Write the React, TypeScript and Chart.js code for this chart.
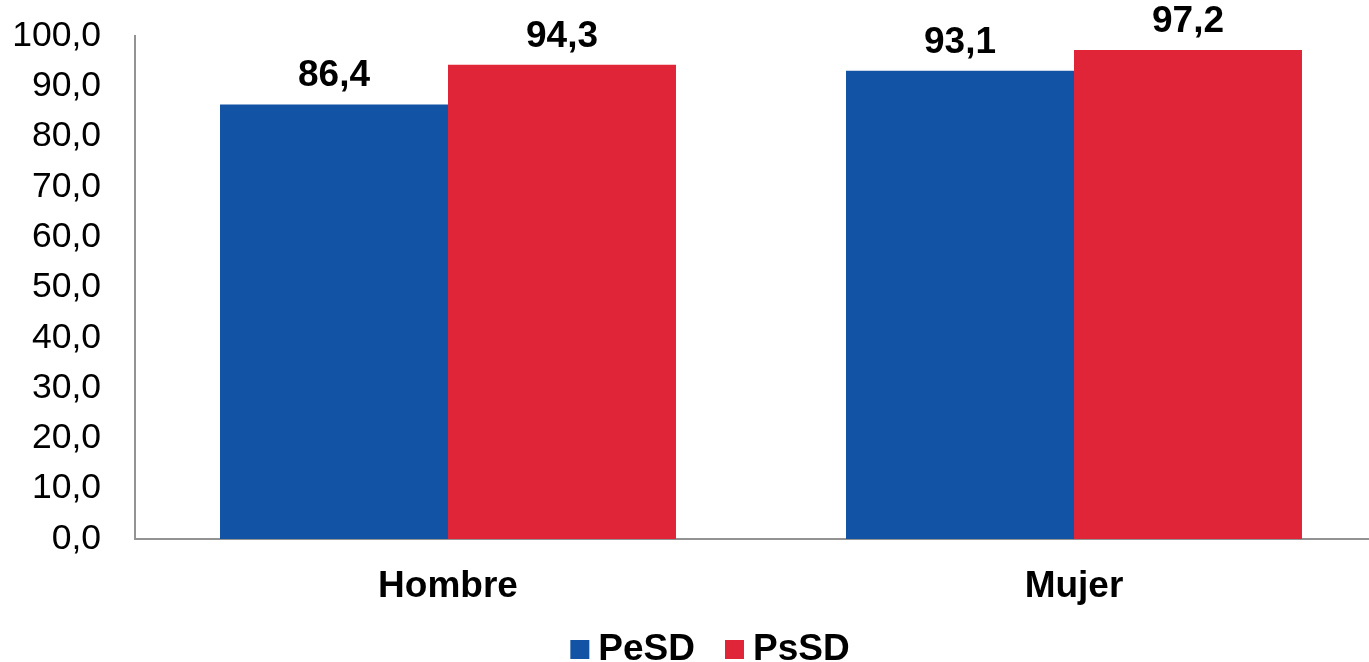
import React, { useEffect, useRef } from "react";
import { Chart, registerables } from "chart.js";

Chart.register(...registerables);

const categories = ["Hombre", "Mujer"];
const seriesNames = ["PeSD", "PsSD"];
const pesdValues = [86.4, 93.1];
const pssdValues = [94.3, 97.2];
const seriesColors = ["#1353a5", "#e12539"];
const yTicks = [0, 10, 20, 30, 40, 50, 60, 70, 80, 90, 100];

const FONT = "'Liberation Sans', Arial, sans-serif";

const fmt = (v: number) => v.toFixed(1).replace(".", ",");

const valueLabels = {
  id: "valueLabels",
  afterDatasetsDraw(chart: any) {
    const ctx = chart.ctx;
    ctx.save();
    ctx.font = `bold 37px ${FONT}`;
    ctx.fillStyle = "#000";
    ctx.textAlign = "center";
    ctx.textBaseline = "alphabetic";
    chart.data.datasets.forEach((ds: any, i: number) => {
      const meta = chart.getDatasetMeta(i);
      meta.data.forEach((bar: any, j: number) => {
        ctx.fillText(fmt(ds.data[j]), bar.x, bar.y - 18);
      });
    });
    ctx.restore();
  },
};

const customLegend = {
  id: "customLegend",
  afterDraw(chart: any) {
    const ctx = chart.ctx;
    ctx.save();
    ctx.font = `bold 37px ${FONT}`;
    ctx.textBaseline = "alphabetic";
    ctx.textAlign = "left";
    const box = 19;
    const gapBoxText = 9;
    const gapItems = 30;
    const items = chart.data.datasets.map((ds: any) => ({
      label: ds.label,
      color: ds.backgroundColor,
      w: box + gapBoxText + ctx.measureText(ds.label).width,
    }));
    const total = items.reduce((a: number, it: any) => a + it.w, 0) + gapItems * (items.length - 1);
    let x = 710 - total / 2;
    const baseline = 660;
    items.forEach((it: any) => {
      ctx.fillStyle = it.color;
      ctx.fillRect(x, 640, box, box);
      ctx.fillStyle = "#000";
      ctx.fillText(it.label, x + box + gapBoxText, baseline);
      x += it.w + gapItems;
    });
    ctx.restore();
  },
};

export default function App() {
  const ref = useRef<HTMLCanvasElement>(null);
  useEffect(() => {
    if (!ref.current) return;
    const chart = new Chart(ref.current, {
      type: "bar",
      data: {
        labels: categories,
        datasets: [
          { label: seriesNames[0], data: pesdValues, backgroundColor: seriesColors[0] },
          { label: seriesNames[1], data: pssdValues, backgroundColor: seriesColors[1] },
        ],
      },
      options: {
        responsive: false,
        animation: false,
        devicePixelRatio: 1,
        layout: { padding: { top: 36, left: 0, right: 0, bottom: 0 } },
        datasets: { bar: { categoryPercentage: 0.7284, barPercentage: 1 } },
        plugins: {
          legend: { display: false },
          tooltip: { enabled: false },
        },
        scales: {
          x: {
            grid: { display: false, drawTicks: false },
            border: { display: true, color: "#939393", width: 2 },
            ticks: {
              color: "#000",
              font: { family: FONT, size: 37, weight: "bold" },
              padding: 26,
            },
            afterFit: (s: any) => {
              s.height = 123;
              s.paddingLeft = 0;
              s.paddingRight = 0;
            },
          },
          y: {
            min: 0,
            max: 100,
            grid: { display: false, drawTicks: false },
            border: { display: true, color: "#939393", width: 2 },
            afterBuildTicks: (s: any) => {
              s.ticks = yTicks.map((v) => ({ value: v }));
            },
            ticks: {
              color: "#000",
              font: { family: FONT, size: 35.5 },
              padding: 34,
              callback: (v: any) => fmt(Number(v)),
            },
            afterFit: (s: any) => {
              s.width = 135;
              s.paddingTop = 0;
              s.paddingBottom = 0;
            },
          },
        },
      },
      plugins: [valueLabels, customLegend],
    } as any);
    return () => chart.destroy();
  }, []);
  return (
    <div style={{ position: "fixed", left: 0, top: 0, width: 1369, height: 662, overflow: "hidden", background: "#fff" }}>
      <canvas ref={ref} width={1387} height={662} style={{ display: "block" }} />
    </div>
  );
}
